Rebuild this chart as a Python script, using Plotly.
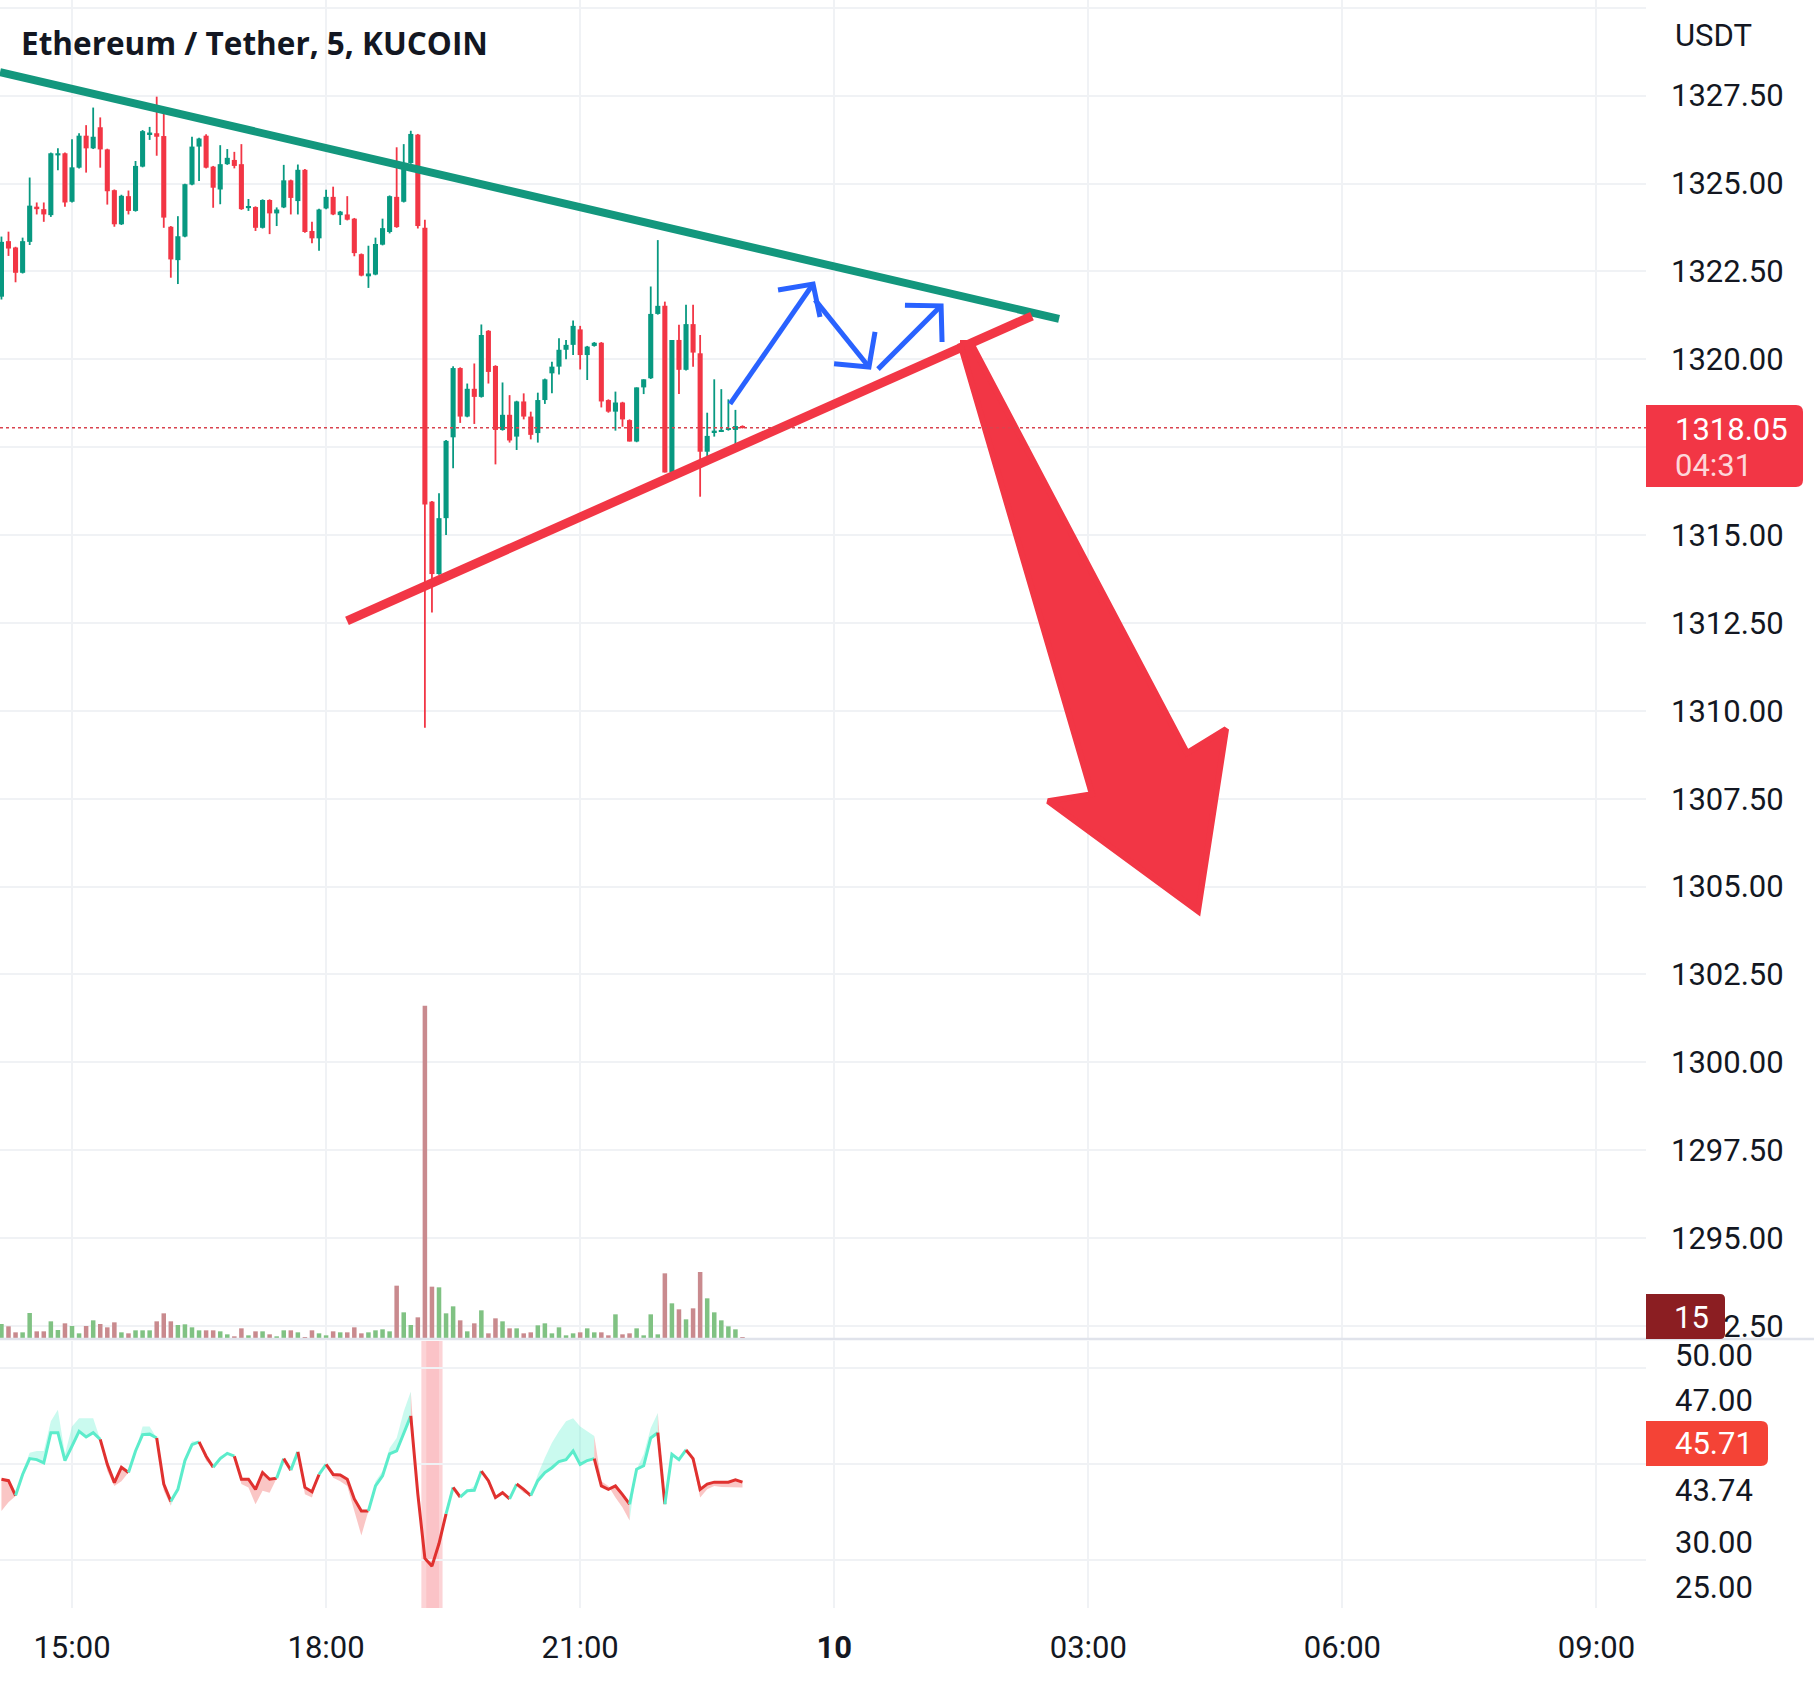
import plotly.graph_objects as go
import pandas as pd

# ---------------- data ----------------
times = pd.date_range("2022-10-09 14:10:00", periods=106, freq="5min")

opens = [1321.78, 1323.36, 1323.18, 1322.46, 1323.34, 1324.34, 1324.27, 1324.10, 1325.80, 1325.86,
         1324.48, 1325.45, 1326.36, 1326.00, 1326.60, 1325.97, 1324.81, 1323.84, 1324.64, 1324.22,
         1325.48, 1326.40, 1326.43, 1326.35, 1323.77, 1322.82, 1323.49, 1324.97, 1326.05, 1326.36,
         1325.48, 1324.83, 1325.55, 1325.67, 1325.55, 1324.30, 1324.33, 1323.74, 1324.53, 1324.15,
         1324.32, 1325.09, 1324.50, 1325.39, 1323.65, 1323.44, 1324.29, 1324.62, 1324.10, 1324.12,
         1324.00, 1322.99, 1322.36, 1322.41, 1323.26, 1323.62, 1324.62, 1324.48, 1325.58, 1326.39,
         1323.74, 1315.95, 1313.89, 1315.48, 1317.78, 1319.75, 1318.37, 1319.16, 1318.93, 1320.81,
         1319.81, 1317.99, 1318.42, 1317.80, 1318.80, 1318.37, 1317.90, 1318.84, 1319.60, 1319.79,
         1320.27, 1320.41, 1320.85, 1320.12, 1320.38, 1320.47, 1318.84, 1318.51, 1318.77, 1318.27,
         1317.66, 1319.20, 1319.46, 1321.29, 1321.52, 1316.78, 1320.55, 1319.70, 1321.00, 1320.17,
         1317.37, 1317.93, 1317.95, 1317.99, 1317.99, 1318.10]
highs = [1323.49, 1323.63, 1323.20, 1323.46, 1325.17, 1324.46, 1324.46, 1325.88, 1326.00, 1325.88,
         1326.26, 1326.43, 1326.66, 1327.16, 1326.88, 1325.99, 1324.83, 1324.68, 1324.80, 1325.64,
         1326.52, 1326.61, 1327.47, 1327.06, 1323.79, 1324.07, 1324.99, 1326.33, 1326.30, 1326.40,
         1325.50, 1326.09, 1325.98, 1325.90, 1326.12, 1324.56, 1324.35, 1324.55, 1324.55, 1324.32,
         1325.53, 1325.11, 1325.54, 1325.41, 1323.91, 1324.28, 1324.82, 1324.91, 1324.22, 1324.64,
         1324.02, 1323.01, 1323.23, 1323.46, 1324.00, 1324.66, 1326.03, 1326.12, 1326.50, 1326.41,
         1323.97, 1315.97, 1316.19, 1317.70, 1319.80, 1319.77, 1319.31, 1319.88, 1320.99, 1320.83,
         1319.83, 1319.34, 1318.98, 1318.82, 1319.03, 1318.51, 1319.05, 1319.45, 1319.93, 1320.60,
         1320.55, 1321.10, 1320.95, 1320.38, 1320.49, 1320.49, 1318.86, 1319.08, 1318.79, 1318.29,
         1319.20, 1319.43, 1322.07, 1323.39, 1321.64, 1320.55, 1320.98, 1321.55, 1321.55, 1320.69,
         1318.48, 1319.43, 1319.15, 1318.86, 1318.56, 1318.12]
lows = [1321.70, 1322.94, 1322.19, 1322.44, 1323.25, 1324.12, 1323.91, 1324.05, 1325.38, 1324.34,
        1324.46, 1325.43, 1325.31, 1325.98, 1325.45, 1324.40, 1323.77, 1323.82, 1324.12, 1324.20,
        1325.46, 1326.24, 1325.79, 1323.74, 1322.32, 1322.14, 1323.47, 1324.95, 1325.07, 1325.43,
        1324.31, 1324.41, 1325.53, 1325.43, 1324.25, 1324.22, 1323.65, 1323.72, 1323.56, 1323.79,
        1324.30, 1324.12, 1324.12, 1323.60, 1323.30, 1323.09, 1324.27, 1324.10, 1323.82, 1323.95,
        1322.93, 1322.36, 1322.03, 1322.39, 1323.24, 1323.58, 1323.74, 1324.46, 1325.56, 1323.72,
        1309.52, 1312.80, 1313.87, 1315.00, 1316.90, 1318.19, 1318.35, 1318.16, 1318.91, 1319.31,
        1317.01, 1317.97, 1317.63, 1317.42, 1318.29, 1317.72, 1317.63, 1318.73, 1319.03, 1319.57,
        1320.00, 1320.12, 1319.71, 1319.41, 1320.36, 1318.63, 1318.48, 1317.97, 1318.08, 1317.66,
        1317.64, 1319.01, 1319.44, 1321.27, 1316.78, 1316.76, 1319.01, 1319.68, 1319.79, 1316.09,
        1316.99, 1317.80, 1317.93, 1317.97, 1317.47, 1318.03]
closes = [1323.34, 1323.15, 1322.46, 1323.36, 1324.37, 1324.27, 1324.12, 1325.86, 1325.86, 1324.46,
          1325.46, 1326.36, 1326.00, 1326.33, 1325.97, 1324.78, 1323.84, 1324.65, 1324.22, 1325.50,
          1326.49, 1326.45, 1326.33, 1324.03, 1322.84, 1323.50, 1324.98, 1326.05, 1326.28, 1325.45,
          1324.88, 1325.55, 1325.73, 1325.50, 1324.27, 1324.36, 1323.74, 1324.53, 1324.15, 1324.26,
          1325.09, 1324.59, 1325.39, 1323.62, 1323.44, 1324.26, 1324.62, 1324.12, 1324.20, 1323.97,
          1323.02, 1322.38, 1322.44, 1323.28, 1323.73, 1324.64, 1323.76, 1325.58, 1326.41, 1323.79,
          1315.87, 1313.89, 1315.48, 1317.68, 1319.75, 1318.37, 1319.16, 1318.93, 1320.69, 1319.64,
          1317.99, 1318.42, 1317.69, 1318.80, 1318.37, 1317.85, 1318.84, 1319.43, 1319.79, 1320.27,
          1320.41, 1320.95, 1320.12, 1320.36, 1320.47, 1318.80, 1318.51, 1318.77, 1318.29, 1317.66,
          1319.20, 1319.43, 1321.29, 1321.52, 1316.78, 1320.55, 1319.70, 1321.00, 1320.19, 1317.37,
          1317.82, 1317.97, 1317.99, 1318.02, 1318.10, 1318.05]
volumes = [135, 114, 60, 60, 234, 69, 69, 159, 81, 141,
           117, 51, 117, 168, 135, 105, 150, 60, 51, 78,
           78, 78, 159, 231, 159, 126, 132, 105, 78, 78,
           78, 69, 42, 24, 96, 33, 69, 69, 42, 24,
           78, 78, 60, 15, 78, 51, 33, 69, 60, 60,
           105, 51, 60, 78, 87, 69, 480, 240, 126, 195,
           3000, 471, 465, 231, 294, 168, 69, 141, 258, 51,
           186, 159, 96, 96, 51, 60, 123, 141, 51, 105,
           33, 51, 60, 96, 60, 60, 33, 222, 42, 51,
           96, 33, 222, 42, 591, 321, 267, 177, 276, 603,
           366, 240, 168, 114, 87, 15]

# oscillator line, its companion band, and segment trend (1 = rising/aqua, 0 = falling/red)
osc = [46.9, 46.6, 43.5, 47.9, 51.2, 51.0, 50.3, 56.6, 56.6, 50.8,
       53.8, 56.9, 55.7, 56.6, 55.2, 50.0, 46.2, 49.4, 48.3, 52.8,
       56.2, 56.3, 55.5, 45.9, 42.3, 44.8, 50.8, 54.1, 54.7, 51.7,
       49.4, 51.2, 52.3, 51.7, 46.9, 46.9, 44.8, 48.3, 46.9, 47.1,
       51.2, 48.8, 52.6, 45.2, 44.3, 47.9, 50.0, 47.9, 47.8, 46.9,
       42.8, 40.3, 40.3, 45.5, 47.6, 52.2, 52.8, 56.6, 60.1, 43.8,
       30.4, 28.8, 33.5, 39.7, 45.2, 43.2, 44.5, 44.6, 48.6, 46.6,
       43.1, 44.1, 42.8, 45.9, 44.8, 43.5, 46.6, 48.3, 49.3, 50.6,
       51.0, 52.8, 50.0, 50.8, 51.2, 45.5, 44.8, 45.5, 43.7, 41.7,
       49.0, 49.7, 55.5, 56.6, 41.7, 52.1, 51.0, 53.0, 51.2, 44.8,
       45.9, 46.3, 46.3, 46.3, 46.8, 46.3]
osc_band = [40.3, 42.1, 43.4, 48.6, 52.4, 52.8, 52.8, 59.0, 61.4, 52.1,
            57.9, 59.6, 59.6, 59.6, 55.2, 48.6, 45.5, 46.5, 48.3, 52.8,
            57.9, 57.9, 55.5, 44.5, 41.4, 44.8, 51.0, 54.8, 54.7, 50.7,
            49.4, 51.7, 52.4, 51.7, 45.9, 45.2, 41.7, 44.5, 44.1, 47.1,
            51.2, 48.8, 52.6, 43.8, 43.1, 47.9, 50.0, 47.2, 46.5, 45.5,
            40.3, 35.2, 40.3, 46.5, 48.6, 53.4, 55.5, 61.0, 65.2, 43.1,
            30.0, 28.6, 33.4, 40.3, 45.2, 43.2, 44.5, 45.5, 48.6, 45.9,
            42.8, 43.8, 42.8, 45.5, 44.1, 43.4, 47.9, 51.4, 54.5, 56.9,
            59.0, 59.6, 57.9, 56.9, 55.9, 46.5, 45.5, 43.1, 41.0, 38.3,
            49.0, 52.1, 57.6, 60.7, 41.7, 52.1, 51.4, 53.4, 50.3, 43.1,
            44.8, 45.5, 45.3, 45.2, 45.2, 45.2]
osc_trend = [0, 0] + [1] * 12 + [0] * 4 + [1] * 4 + [0] * 2 + [1] * 4 + [0] * 2 + [1] * 3 + \
            [0] * 6 + [1] + [0] + [1] + [0] * 3 + [1] + [0] * 6 + [1] * 6 + [0] * 5 + [1] + [0] + \
            [1] * 3 + [0] * 4 + [1] + [0] * 2 + [1] * 9 + [0] * 5 + [1] * 4 + [0] + [1] * 3 + [0] * 8

# user drawings (time, price)
green_trend = [("2022-10-09 14:09:00", 1328.17), ("2022-10-10 02:39:18", 1321.15)]
red_trend = [("2022-10-09 18:14:48", 1312.56), ("2022-10-10 02:20:06", 1321.23)]
blue_arrows = [
    [("2022-10-09 22:46:12", 1318.73), ("2022-10-09 23:45:00", 1322.14),
     ("2022-10-09 23:20:12", 1321.97), ("2022-10-09 23:49:54", 1321.20)],
    [("2022-10-09 23:46:24", 1321.69), ("2022-10-10 00:24:36", 1319.78),
     ("2022-10-09 23:59:54", 1319.87), ("2022-10-10 00:28:54", 1320.78)],
    [("2022-10-10 00:31:00", 1319.72), ("2022-10-10 01:15:42", 1321.52),
     ("2022-10-10 00:50:06", 1321.54), ("2022-10-10 01:16:24", 1320.49)],
]
big_arrow = [("2022-10-10 01:29:06", 1320.46), ("2022-10-10 01:36:54", 1320.46),
             ("2022-10-10 04:09:54", 1308.80), ("2022-10-10 04:37:36", 1309.48),
             ("2022-10-10 04:17:42", 1304.30), ("2022-10-10 02:31:30", 1307.43),
             ("2022-10-10 03:02:36", 1307.63), ("2022-10-10 01:29:06", 1320.46)]

last_price = 1318.05
last_volume = "15"
osc_labels = ["50.00", "47.00", "43.74", "30.00", "25.00"]
osc_last = "45.71"
price_ticks = [1292.5 + 2.5 * k for k in range(16)]
time_ticks = ["2022-10-09 15:00", "2022-10-09 18:00", "2022-10-09 21:00", "2022-10-10 00:00",
              "2022-10-10 03:00", "2022-10-10 06:00", "2022-10-10 09:00"]
time_labels = ["15:00", "18:00", "21:00", "<b>10</b>", "03:00", "06:00", "09:00"]

# ---------------- styles ----------------
UP, DOWN = "#089981", "#F23645"
VOL_UP, VOL_DOWN = "#80C283", "#C98A8E"
GRID = "#F0F2F5"
TXT = "#131722"
W, H = 1814, 1682
ML, MR, MT, MB = 0, 168, 0, 74
PW, PH = W - ML - MR, H - MT - MB
FONT = "Roboto"
FS = 31


def px_x(x):
    return (x - ML) / PW


def px_y(y):
    return (PH - (y - MT)) / PH


def rounded_box(x0, y0, x1, y1, r=7):
    # pixel box -> paper path with rounded right corners
    X0, X1, Xr = px_x(x0), px_x(x1), px_x(x1 - r)
    Yt, Yb = px_y(y0), px_y(y1)
    Ytr, Ybr = px_y(y0 + r), px_y(y1 - r)
    return (f"M {X0},{Yt} L {Xr},{Yt} Q {X1},{Yt} {X1},{Ytr} L {X1},{Ybr} "
            f"Q {X1},{Yb} {Xr},{Yb} L {X0},{Yb} Z")


fig = go.Figure()

# volume
up_flags = [c >= o for o, c in zip(opens, closes)]
fig.add_trace(go.Bar(x=times, y=volumes, yaxis="y4",
                     marker=dict(color=[VOL_UP if u else VOL_DOWN for u in up_flags], line_width=0),
                     width=3.2 * 60000, hoverinfo="skip"))

# candles: wicks
for flag, col in ((True, UP), (False, DOWN)):
    xs, ys = [], []
    for t, h, l, u in zip(times, highs, lows, up_flags):
        if u == flag:
            xs += [t, t, None]
            ys += [l, h, None]
    fig.add_trace(go.Scatter(x=xs, y=ys, mode="lines", yaxis="y2",
                             line=dict(color=col, width=1.8), hoverinfo="skip"))
# candles: bodies
fig.add_trace(go.Bar(x=times, base=[min(o, c) for o, c in zip(opens, closes)],
                     y=[max(abs(c - o), 0.04) for o, c in zip(opens, closes)], yaxis="y2",
                     marker=dict(color=[UP if u else DOWN for u in up_flags], line_width=0),
                     width=3.6 * 60000, hoverinfo="skip"))

# trend lines
fig.add_trace(go.Scatter(x=[p[0] for p in green_trend], y=[p[1] for p in green_trend], mode="lines",
                         yaxis="y2", line=dict(color="#13977D", width=8), hoverinfo="skip"))
fig.add_trace(go.Scatter(x=[p[0] for p in red_trend], y=[p[1] for p in red_trend], mode="lines",
                         yaxis="y2", line=dict(color=DOWN, width=9), hoverinfo="skip"))
# blue arrows
for a in blue_arrows:
    xs = [a[0][0], a[1][0], None, a[2][0], a[1][0], a[3][0]]
    ys = [a[0][1], a[1][1], None, a[2][1], a[1][1], a[3][1]]
    fig.add_trace(go.Scatter(x=xs, y=ys, mode="lines", yaxis="y2",
                             line=dict(color="#2962FF", width=5), hoverinfo="skip"))
# big red arrow
fig.add_trace(go.Scatter(x=[p[0] for p in big_arrow], y=[p[1] for p in big_arrow], mode="lines",
                         fill="toself", fillcolor=DOWN, yaxis="y2",
                         line=dict(color=DOWN, width=6), hoverinfo="skip"))

# oscillator fills and line
runs = []
s = 0
for i in range(1, len(osc_trend) + 1):
    if i == len(osc_trend) or osc_trend[i] != osc_trend[s]:
        runs.append((s, i, osc_trend[s]))
        s = i
for a, b, up in runs:
    idx = list(range(a, b + 1))
    xs = [times[i] for i in idx] + [times[i] for i in reversed(idx)]
    ys = [osc[i] for i in idx] + [osc_band[i] for i in reversed(idx)]
    fig.add_trace(go.Scatter(x=xs, y=ys, mode="lines", fill="toself", yaxis="y3",
                             fillcolor="rgba(94,240,207,0.33)" if up else "rgba(240,83,80,0.33)",
                             line=dict(width=0), hoverinfo="skip"))
for a, b, up in runs:
    idx = list(range(a, b + 1))
    fig.add_trace(go.Scatter(x=[times[i] for i in idx], y=[osc[i] for i in idx], mode="lines",
                             yaxis="y3", line=dict(color="#5CECCB" if up else "#E0312F", width=3),
                             hoverinfo="skip"))

half = pd.Timedelta(minutes=2.5)
shapes = [
    dict(type="rect", xref="x", yref="y3 domain", x0=times[60] - half, x1=times[62] + half, y0=0, y1=1,
         fillcolor="rgba(242,54,69,0.22)", line_width=0, layer="below"),
    dict(type="rect", xref="x", yref="y3 domain", x0=times[60] + pd.Timedelta(minutes=1),
         x1=times[62], y0=0, y1=1, fillcolor="rgba(242,54,69,0.10)", line_width=0, layer="below"),
    dict(type="line", xref="paper", yref="y2", x0=0, x1=1, y0=last_price, y1=last_price,
         line=dict(color="#D9434E", width=1.6, dash="dot")),
    dict(type="line", xref="paper", yref="paper", x0=0, x1=W / PW, y0=px_y(1339), y1=px_y(1339),
         line=dict(color="#E0E3EB", width=2.5)),
    dict(type="path", xref="paper", yref="paper", path=rounded_box(1646, 405, 1803, 487),
         fillcolor=DOWN, line_width=0),
    dict(type="path", xref="paper", yref="paper", path=rounded_box(1646, 1294, 1725, 1339, 5),
         fillcolor="#8B1E22", line_width=0),
    dict(type="path", xref="paper", yref="paper", path=rounded_box(1646, 1421, 1768, 1466),
         fillcolor="#F44336", line_width=0),
]

ann = []


def txt(x, y, s, color=TXT, size=FS, xanchor="left", bold=False, family=FONT):
    ann.append(dict(x=px_x(x), y=px_y(y), xref="paper", yref="paper", text=s, showarrow=False,
                    xanchor=xanchor, yanchor="middle",
                    font=dict(family=family, size=size, color=color, weight=700 if bold else 400)))


txt(19, 42, "Ethereum / Tether, 5, KUCOIN", bold=True, size=31.5, family="Open Sans")
txt(1673, 35, "USDT")
txt(1673, 430, f"{last_price:.2f}", color="white")
txt(1673, 465, "04:31", color="#FDD7DA")
txt(1691, 1317, last_volume, color="white", xanchor="center")
for lab, yy in zip(osc_labels, [1355, 1400, 1490, 1542, 1587]):
    txt(1673, yy, lab)
txt(1673, 1443, osc_last, color="white")

fig.update_layout(
    width=W, height=H, margin=dict(l=ML, r=MR, t=MT, b=MB),
    paper_bgcolor="white", plot_bgcolor="white", showlegend=False, barmode="overlay",
    font=dict(family=FONT, size=FS, color=TXT),
    xaxis=dict(type="date", range=["2022-10-09 14:08:59", "2022-10-10 09:35:06"], anchor="y3",
               tickvals=time_ticks, ticktext=time_labels, showgrid=True, gridcolor=GRID, gridwidth=2,
               zeroline=False, showline=False, ticks="", tickfont=dict(size=FS, color=TXT),
               ticklabelstandoff=18),
    yaxis2=dict(domain=[px_y(1339), 1], anchor="x", side="right", range=[1292.13, 1330.22],
                tickvals=price_ticks,
                ticktext=["" if v in (1317.5, 1330.0) else f"{v:.2f}" for v in price_ticks],
                showgrid=True, gridcolor=GRID, gridwidth=2, zeroline=False, showline=False, ticks="",
                tickfont=dict(size=FS, color=TXT), ticklabelstandoff=24),
    yaxis4=dict(overlaying="y2", range=[0, 12051], visible=False),
    yaxis3=dict(domain=[0, px_y(1341)], anchor="x", range=[20.07, 75.71], tickvals=[30, 50, 70],
                showticklabels=False, showgrid=True, gridcolor=GRID, gridwidth=2, zeroline=False,
                showline=False),
    shapes=shapes, annotations=ann,
)

fig.write_html("out.html", config={"displayModeBar": False},
               post_script="document.body.style.margin='0px';document.body.style.overflow='hidden';")
